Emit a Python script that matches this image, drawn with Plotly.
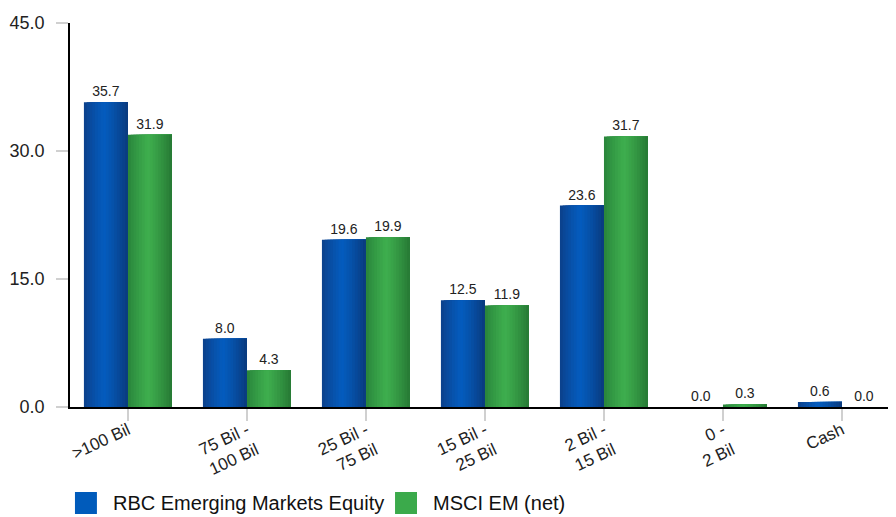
import plotly.graph_objects as go

categories = [">100 Bil", "75 Bil -<br>100 Bil", "25 Bil -<br>75 Bil", "15 Bil -<br>25 Bil",
              "2 Bil -<br>15 Bil", "0 -<br>2 Bil", "Cash"]
rbc_values = [35.7, 8.0, 19.6, 12.5, 23.6, 0.0, 0.6]
msci_values = [31.9, 4.3, 19.9, 11.9, 31.7, 0.3, 0.0]
series_names = ["RBC Emerging Markets Equity", "MSCI EM (net)"]
y_ticks = [0, 15, 30, 45]

BAR_W = 0.37
N_SLICES = 16

def lerp(c1, c2, t):
    return tuple(int(round(a + (b - a) * t)) for a, b in zip(c1, c2))

def grad_color(edge_l, mid, edge_r, t):
    p = 0.45
    if t < p:
        c = lerp(edge_l, mid, (t / p) ** 0.8)
    else:
        c = lerp(mid, edge_r, ((t - p) / (1 - p)) ** 1.2)
    return "rgb(%d,%d,%d)" % c

palettes = [
    ((12, 62, 135), (4, 92, 190), (10, 58, 125)),   # blue
    ((40, 130, 58), (62, 174, 78), (38, 120, 52)),  # green
]

fig = go.Figure()
for s, vals in enumerate([rbc_values, msci_values]):
    start = -BAR_W if s == 0 else 0.0
    w = BAR_W / N_SLICES
    el, mid, er = palettes[s]
    for k in range(N_SLICES):
        t = (k + 0.5) / N_SLICES
        fig.add_trace(go.Bar(
            x=categories, y=vals,
            offset=start + k * w, width=BAR_W - k * w,
            marker=dict(color=grad_color(el, mid, er, t), line=dict(width=0)),
            showlegend=False, hoverinfo="skip",
        ))
    fig.add_trace(go.Bar(
        x=categories, y=vals, offset=start, width=BAR_W,
        marker=dict(color="rgba(0,0,0,0)", line=dict(width=0)),
        text=["%.1f" % v for v in vals], textposition="outside",
        textfont=dict(size=14, color="#222222", family="Liberation Sans, Arial"),
        cliponaxis=False, showlegend=False, name=series_names[s],
    ))

# page body has an 8px margin, so the figure is 8px smaller than the window
fig.update_layout(
    barmode="overlay",
    width=888, height=509,
    margin=dict(l=62, r=0, t=15, b=110),
    paper_bgcolor="white", plot_bgcolor="white",
    font=dict(family="Liberation Sans, Arial", color="#222222"),
    showlegend=False,
)
fig.update_xaxes(
    showgrid=False, showline=True, linecolor="black", linewidth=1.5,
    ticks="outside", ticklen=12, tickcolor="#d0d0d0", tickwidth=1.5,
    tickangle=-25, tickfont=dict(size=17, color="#222222"),
    ticklabelstandoff=-7,
    range=[-0.487, 6.454],
)
fig.update_yaxes(
    range=[0, 45], tickvals=y_ticks, ticktext=["%.1f" % v for v in y_ticks],
    showgrid=False, showline=True, linecolor="black", linewidth=1.5,
    ticks="outside", ticklen=12, tickcolor="#d0d0d0", tickwidth=1.5,
    tickfont=dict(size=18, color="#222222"), ticklabelstandoff=8,
    zeroline=False,
)

legend_colors = ["#005BBB", "#3BAA4B"]
legend_x = [0.006, 0.3935]
for name, col, x0 in zip(series_names, legend_colors, legend_x):
    fig.add_shape(type="rect", xref="paper", yref="paper",
                  x0=x0, x1=x0 + 0.0266, y0=-0.2786, y1=-0.2214,
                  fillcolor=col, line=dict(width=0))
    fig.add_annotation(xref="paper", yref="paper", x=x0 + 0.0440, y=-0.25,
                       text=name, showarrow=False, xanchor="left", yanchor="middle",
                       font=dict(size=20, color="#111111", family="Liberation Sans, Arial"))

fig.write_html("out.html")
